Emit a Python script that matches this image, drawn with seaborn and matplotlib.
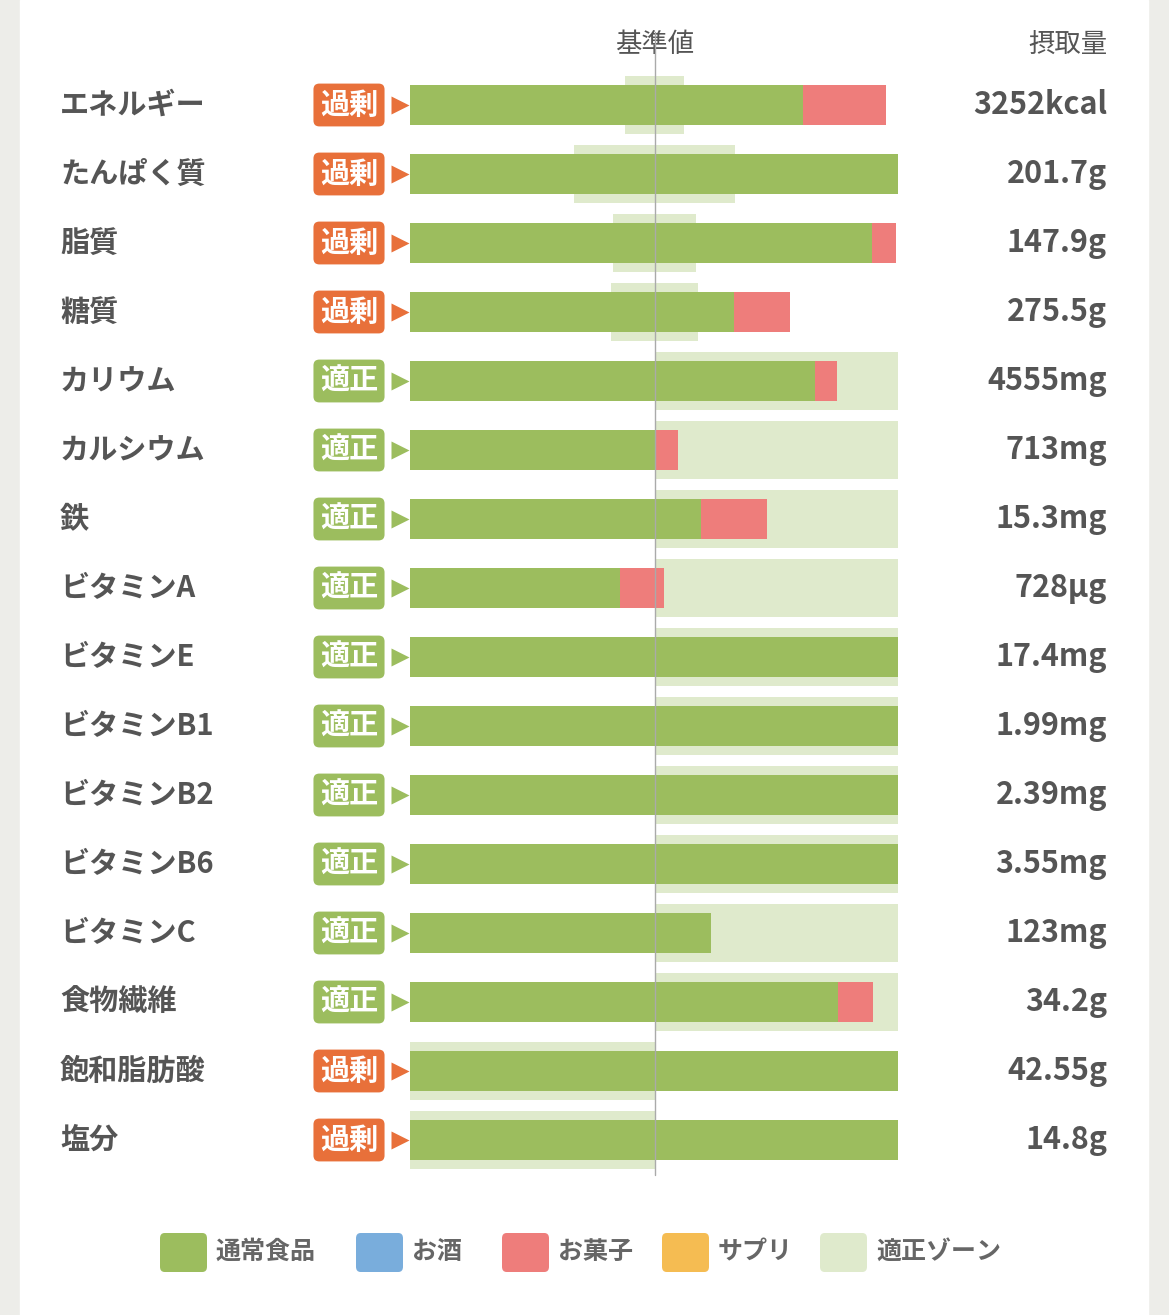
import numpy as np
import pandas as pd
import matplotlib
matplotlib.use('Agg')
import matplotlib.pyplot as plt
import matplotlib.patches as mpatches
import seaborn as sns

nutrients = ['エネルギー', 'たんぱく質', '脂質', '糖質', 'カリウム', 'カルシウム', '鉄',
             'ビタミンA', 'ビタミンE', 'ビタミンB1', 'ビタミンB2', 'ビタミンB6',
             'ビタミンC', '食物繊維', '飽和脂肪酸', '塩分']
status = ['過剰', '過剰', '過剰', '過剰', '適正', '適正', '適正', '適正', '適正', '適正',
          '適正', '適正', '適正', '適正', '過剰', '過剰']
intake = ['3252kcal', '201.7g', '147.9g', '275.5g', '4555mg', '713mg', '15.3mg', '728µg',
          '17.4mg', '1.99mg', '2.39mg', '3.55mg', '123mg', '34.2g', '42.55g', '14.8g']
# percent of the reference value (100 = 基準値), bars capped at 200
food = [160.4, 199.2, 188.6, 132.2, 165.3, 100.0, 118.8, 85.7, 199.2, 199.2, 199.2, 199.2,
        122.9, 174.7, 199.2, 199.2]
snack = [33.9, 0, 9.8, 22.9, 9.0, 9.4, 26.9, 18.0, 0, 0, 0, 0, 0, 14.3, 0, 0]
zone_lo = [87.8, 66.9, 82.9, 82.0, 100, 100, 100, 100, 100, 100, 100, 100, 100, 100, 0, 0]
zone_hi = [111.8, 132.7, 116.7, 117.6, 199.2, 199.2, 199.2, 199.2, 199.2, 199.2, 199.2,
           199.2, 199.2, 199.2, 100, 100]
legend_labels = ['通常食品', 'お酒', 'お菓子', 'サプリ', '適正ゾーン']

GREEN = '#9CBD5E'
BLUE = '#79ADDC'
PINK = '#EE7D7B'
YELLOW = '#F5BC52'
ZONE = '#DFEACC'
ORANGE = '#E8703A'
TEXT = '#555555'
legend_colors = [GREEN, BLUE, PINK, YELLOW, ZONE]

sns.set_theme(style='white')
plt.rcParams['font.family'] = ['Noto Sans CJK JP', 'DejaVu Sans']

W, H = 1169, 1315
fig = plt.figure(figsize=(W / 100, H / 100), dpi=100, facecolor='#EDEDE9')
fig.patches.append(mpatches.Rectangle((20 / W, 0), 1128 / W, 1, transform=fig.transFigure,
                                      color='white', zorder=-10))

ax = fig.add_axes([410 / W, 1 - 1174.5 / H, 488 / W, 1104 / H])
ax.set_zorder(5)
ax.set_facecolor('none')

df = pd.DataFrame({'nutrient': nutrients, 'food': food, 'snack': snack,
                   'total': np.array(food) + np.array(snack)})
y = np.arange(len(nutrients))

ax.barh(y, np.array(zone_hi) - np.array(zone_lo), left=zone_lo, height=0.83, color=ZONE, zorder=1)
sns.barplot(data=df, x='total', y='nutrient', color=PINK, width=0.57, saturation=1, ax=ax, zorder=2)
sns.barplot(data=df, x='food', y='nutrient', color=GREEN, width=0.57, saturation=1, ax=ax, zorder=3)
for p in ax.patches:
    p.set_linewidth(0)

ax.axvline(100, ymin=0, ymax=1.035, color='#AAAAAA', lw=1, clip_on=False, zorder=4)
ax.set_xlim(0, 488 / 2.45)
ax.set_ylim(15.5, -0.5)
ax.set_xlabel('')
ax.set_ylabel('')
ax.set_xticks([])
ax.set_yticks([])
sns.despine(ax=ax, left=True, bottom=True)

tr = ax.get_yaxis_transform()
px = lambda v: (v - 410) / 488  # figure pixel -> axes x fraction
for i in range(len(nutrients)):
    ax.text(px(60), i, nutrients[i], transform=tr, ha='left', va='center', fontsize=21,
            fontweight='bold', color=TEXT)
    c = ORANGE if status[i] == '過剰' else GREEN
    ax.text(px(349), i, status[i], transform=tr, ha='center', va='center', fontsize=21,
            fontweight='bold', color='white',
            bbox=dict(boxstyle='round,pad=0.22,rounding_size=0.2', fc=c, ec='none'))
    ax.plot([px(400)], [i], marker='>', ms=13, color=c, transform=tr, clip_on=False, mec='none')
    ax.text(px(1107), i, intake[i], transform=tr, ha='right', va='center', fontsize=22,
            fontweight='bold', color=TEXT)

fig.text(655 / W, 1 - 44 / H, '基準値', ha='center', va='center', fontsize=19, color=TEXT)
fig.text(1107 / W, 1 - 44 / H, '摂取量', ha='right', va='center', fontsize=19, color=TEXT)

leg_x = [160, 356, 502, 662, 820]
for lx, lab, col in zip(leg_x, legend_labels, legend_colors):
    fig.patches.append(mpatches.FancyBboxPatch((lx / W, 1 - 1272 / H), 47 / W, 39 / H,
                                               boxstyle='round,pad=0,rounding_size=0.004',
                                               transform=fig.transFigure, fc=col, ec='none'))
    fig.text((lx + 56) / W, 1 - 1252 / H, lab, ha='left', va='center', fontsize=18,
             fontweight='bold', color='#666666')

fig.savefig('out.png', dpi=100, facecolor=fig.get_facecolor())
